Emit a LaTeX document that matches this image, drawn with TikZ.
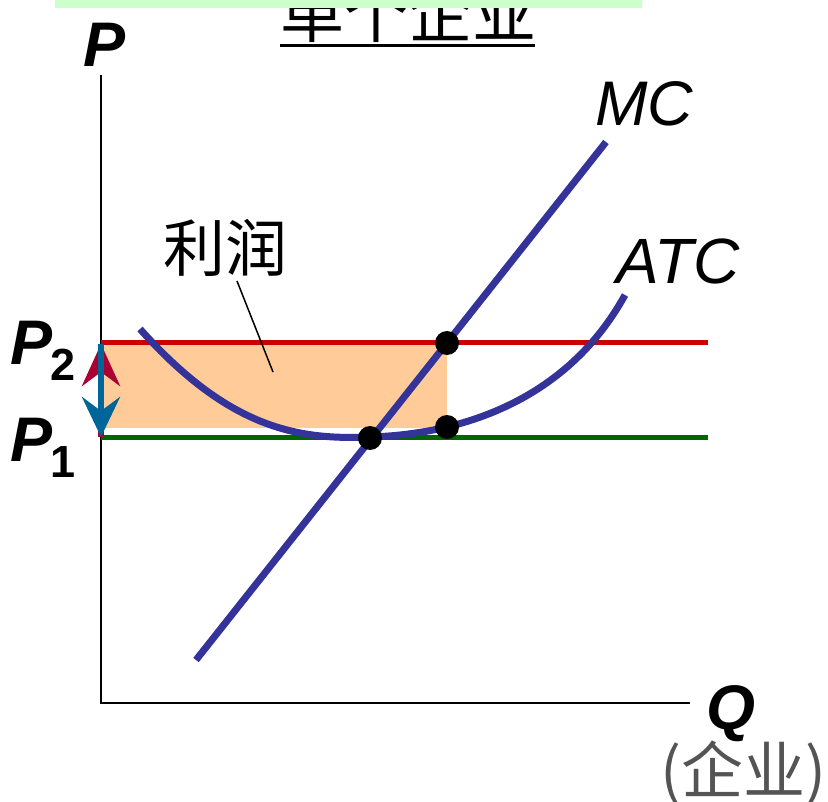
\documentclass[tikz,border=0pt]{standalone}
\usepackage{fontspec}
\newfontfamily\lsans{Liberation Sans}
\newfontfamily\cjk{Noto Sans CJK SC}
\usetikzlibrary{arrows.meta}
\definecolor{curveblue}{HTML}{333399}
\definecolor{pred}{HTML}{CC0000}
\definecolor{pgreen}{HTML}{006600}
\definecolor{peach}{HTML}{FFCC99}
\definecolor{barg}{HTML}{CCFFCC}
\definecolor{arrred}{HTML}{AA0033}
\definecolor{arrblue}{HTML}{006699}
\tikzset{
  lbl/.style={inner sep=0pt, anchor=base west, font=\lsans\bfseries\itshape\fontsize{63}{63}\selectfont},
  lbli/.style={inner sep=0pt, anchor=base west, font=\lsans\itshape\fontsize{63}{63}\selectfont},
  sub/.style={inner sep=0pt, anchor=base west, font=\lsans\bfseries\fontsize{45}{45}\selectfont},
  cjkl/.style={inner sep=0pt, anchor=base west, font=\cjk\fontsize{62}{62}\selectfont},
  dot/.style={circle, fill=black, inner sep=0pt, minimum size=24pt},
  curve/.style={curveblue, line width=7pt},
}
\begin{document}
\begin{tikzpicture}[x=1pt,y=-1pt]
\useasboundingbox (0,0) rectangle (828,802);
% title
\node[cjkl, font=\cjk\fontsize{64}{64}\selectfont] (title) at (280,38) {单个企业};
\draw[line width=3pt] (280,46) -- (535,46);
\fill[barg] (55,-5) rectangle (642,8);
% profit area
\fill[peach] (101,343) rectangle (447,428);
% axes
\coordinate (O) at (101,703);
\coordinate (ytop) at (101,75);
\coordinate (xend) at (690,703);
\draw[line width=2pt] (ytop) -- (O) -- (xend);
% price lines
\coordinate (p2l) at (101,343);
\coordinate (p2r) at (708,343);
\coordinate (p1l) at (101,438);
\coordinate (p1r) at (708,438);
\draw[pred, line width=5pt] (p2l) -- (p2r);
\draw[pgreen, line width=5pt] (p1l) -- (p1r);
% MC
\coordinate (mc1) at (196,660);
\coordinate (mc2) at (606,142);
\draw[curve] (mc1) -- (mc2);
% ATC
\coordinate (atc1) at (140,329);
\coordinate (atcm) at (370,437);
\coordinate (atc2) at (625,295);
\draw[curve] (atc1) .. controls (230,430) and (300,440) .. (atcm) .. controls (470,434) and (570,395) .. (atc2);
% dots
\node[dot] (d1) at (447,343) {};
\node[dot] (d2) at (370,438) {};
\node[dot] (d3) at (447,427) {};
% arrows
\coordinate (abot) at (101,437);
\coordinate (atop) at (101,344);
\draw[arrred, line width=6pt, -{Stealth[length=42pt,width=38pt,inset=14pt]}] (abot) -- (atop);
\draw[arrblue, line width=6pt, -{Stealth[length=40pt,width=38pt,inset=14pt]}] (atop) -- (abot);
% labels
\node[lbl] (P) at (83,67) {P};
\node[lbl] (P2) at (10,365) {P};
\node[sub] (s2) at (50,381) {2};
\node[lbl] (P1) at (10,461) {P};
\node[sub] (s1) at (50,477) {1};
\node[lbl] (Q) at (706,729) {Q};
\node[lbli] (MC) at (595,126) {MC};
\node[lbli, font=\lsans\itshape\fontsize{64}{64}\selectfont] (ATC) at (616,284) {ATC};
\node[cjkl] (lr) at (163,272) {利润};
\node[cjkl, text=black!67] (qy) at (660,793) {(企业)};
\coordinate (ptr) at (273,372);
\draw[line width=1.5pt] (237,281) -- (ptr);
\end{tikzpicture}
\end{document}
